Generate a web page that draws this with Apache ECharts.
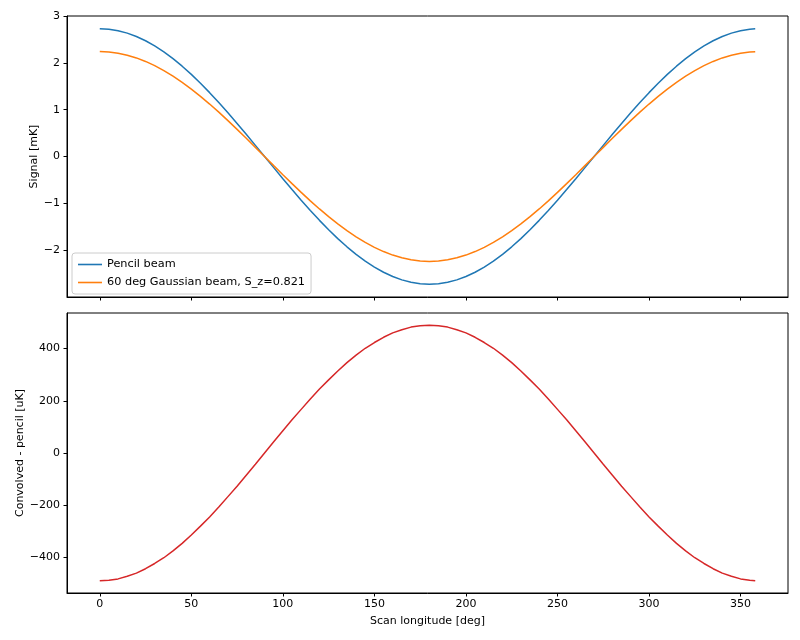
<!DOCTYPE html>
<html>
<head>
<meta charset="utf-8">
<script src="https://cdn.jsdelivr.net/npm/echarts@6/dist/echarts.min.js"></script>
<style>html,body{margin:0;padding:0;background:#fff}#c{width:800px;height:640px}</style>
</head>
<body>
<div id="c"></div>
<script>
// Scan longitude samples [deg]
const longitude = [0,5,10,15,20,25,30,35,40,45,50,55,60,65,70,75,80,85,90,95,100,105,110,115,120,125,130,135,140,145,150,155,160,165,170,175,180,185,190,195,200,205,210,215,220,225,230,235,240,245,250,255,260,265,270,275,280,285,290,295,300,305,310,315,320,325,330,335,340,345,350,355,358];
// Pencil beam signal [mK]
const pencil = [2.730,2.720,2.689,2.637,2.565,2.474,2.364,2.236,2.091,1.930,1.755,1.566,1.365,1.154,0.934,0.707,0.474,0.238,0.000,
  -0.238,-0.474,-0.707,-0.934,-1.154,-1.365,-1.566,-1.755,-1.930,-2.091,-2.236,-2.364,-2.474,-2.565,-2.637,-2.689,-2.720,-2.730,
  -2.720,-2.689,-2.637,-2.565,-2.474,-2.364,-2.236,-2.091,-1.930,-1.755,-1.566,-1.365,-1.154,-0.934,-0.707,-0.474,-0.238,0.000,
  0.238,0.474,0.707,0.934,1.154,1.365,1.566,1.755,1.930,2.091,2.236,2.364,2.474,2.565,2.637,2.689,2.720,2.728];
// 60 deg Gaussian beam signal [mK]
const gaussian = [2.242,2.233,2.208,2.166,2.107,2.032,1.942,1.837,1.717,1.585,1.441,1.286,1.121,0.948,0.767,0.580,0.389,0.195,0.000,
  -0.195,-0.389,-0.580,-0.767,-0.948,-1.121,-1.286,-1.441,-1.585,-1.717,-1.837,-1.942,-2.032,-2.107,-2.166,-2.208,-2.233,-2.242,
  -2.233,-2.208,-2.166,-2.107,-2.032,-1.942,-1.837,-1.717,-1.585,-1.441,-1.286,-1.121,-0.948,-0.767,-0.580,-0.389,-0.195,0.000,
  0.195,0.389,0.580,0.767,0.948,1.121,1.286,1.441,1.585,1.717,1.837,1.942,2.032,2.107,2.166,2.208,2.233,2.241];
// Convolved - pencil [uK]
const diff = [-489,-487,-482,-472,-460,-443,-423,-401,-375,-346,-314,-280,-245,-207,-167,-127,-85,-43,0,
  43,85,127,167,207,245,280,314,346,375,401,423,443,460,472,482,487,489,
  487,482,472,460,443,423,401,375,346,314,280,245,207,167,127,85,43,0,
  -43,-85,-127,-167,-207,-245,-280,-314,-346,-375,-401,-423,-443,-460,-472,-482,-487,-489];

const xTicks = [0,50,100,150,200,250,300,350];
const yTicksTop = [-2,-1,0,1,2,3];
const yTicksBottom = [-400,-200,0,200,400];

const legendNames = ['Pencil beam','60 deg Gaussian beam, S_z=0.821'];
const xName = 'Scan longitude [deg]';
const yNameTop = 'Signal [mK]';
const yNameBottom = 'Convolved - pencil [uK]';

const pair = (xs, ys) => xs.map((x, i) => [x, ys[i]]);
const fmt = v => String(v).replace('-', '\u2212');
const FONT = 'DejaVu Sans';
const FS = 11;

function xAxis(gridIndex, showLabels) {
  return {
    type: 'value', gridIndex, min: -17.9, max: 375.9,
    name: showLabels ? xName : '', nameLocation: 'middle', nameGap: 23, nameMoveOverlap: false,
    nameTextStyle: {fontFamily: FONT, fontSize: FS, color: '#000'},
    axisLine: {show: true, onZero: false, lineStyle: {color: '#000', width: 1}},
    axisTick: {show: true, length: 3.5, inside: false, customValues: xTicks, lineStyle: {color: '#000'}},
    axisLabel: {show: showLabels, customValues: xTicks, margin: 6, fontFamily: FONT, fontSize: FS, color: '#000', formatter: fmt},
    splitLine: {show: false}
  };
}
function yAxis(gridIndex, min, max, ticks, name, gap) {
  return {
    type: 'value', gridIndex, min, max,
    name, nameLocation: 'middle', nameGap: gap, nameMoveOverlap: false,
    nameTextStyle: {fontFamily: FONT, fontSize: FS, color: '#000'},
    axisLine: {show: true, onZero: false, lineStyle: {color: '#000', width: 1}},
    axisTick: {show: true, length: 3.5, customValues: ticks, lineStyle: {color: '#000'}},
    axisLabel: {customValues: ticks, margin: 7, fontFamily: FONT, fontSize: FS, color: '#000', formatter: fmt},
    splitLine: {show: false}
  };
}

const chart = echarts.init(document.getElementById('c'), null, {renderer: 'canvas'});
chart.setOption({
  animation: false,
  backgroundColor: '#fff',
  grid: [
    {left: 67, right: 12, top: 16, height: 281, show: true, borderColor: '#000', borderWidth: 1, containLabel: false},
    {left: 67, right: 12, top: 313, height: 280, show: true, borderColor: '#000', borderWidth: 1, containLabel: false}
  ],
  xAxis: [xAxis(0, false), xAxis(1, true)],
  yAxis: [
    yAxis(0, -3.003, 3.003, yTicksTop, yNameTop, 27),
    yAxis(1, -536, 536, yTicksBottom, yNameBottom, 41)
  ],
  legend: {
    data: legendNames,
    orient: 'vertical', left: 72, top: 253,
    icon: 'rect', itemWidth: 24, itemHeight: 1.6, itemGap: 5,
    padding: [5, 6, 5, 6],
    borderColor: '#ccc', borderWidth: 1, borderRadius: 3,
    backgroundColor: 'rgba(255,255,255,0.8)',
    textStyle: {fontFamily: FONT, fontSize: 11.3, color: '#000', lineHeight: 13}
  },
  series: [
    {name: legendNames[0], type: 'line', xAxisIndex: 0, yAxisIndex: 0, data: pair(longitude, pencil), smooth: false, symbol: 'none', lineStyle: {color: '#1f77b4', width: 1.5}, itemStyle: {color: '#1f77b4'}},
    {name: legendNames[1], type: 'line', xAxisIndex: 0, yAxisIndex: 0, data: pair(longitude, gaussian), smooth: false, symbol: 'none', lineStyle: {color: '#ff7f0e', width: 1.5}, itemStyle: {color: '#ff7f0e'}},
    {name: 'diff', type: 'line', xAxisIndex: 1, yAxisIndex: 1, data: pair(longitude, diff), smooth: false, symbol: 'none', lineStyle: {color: '#d62728', width: 1.5}, itemStyle: {color: '#d62728'}}
  ]
});
</script>
</body>
</html>
